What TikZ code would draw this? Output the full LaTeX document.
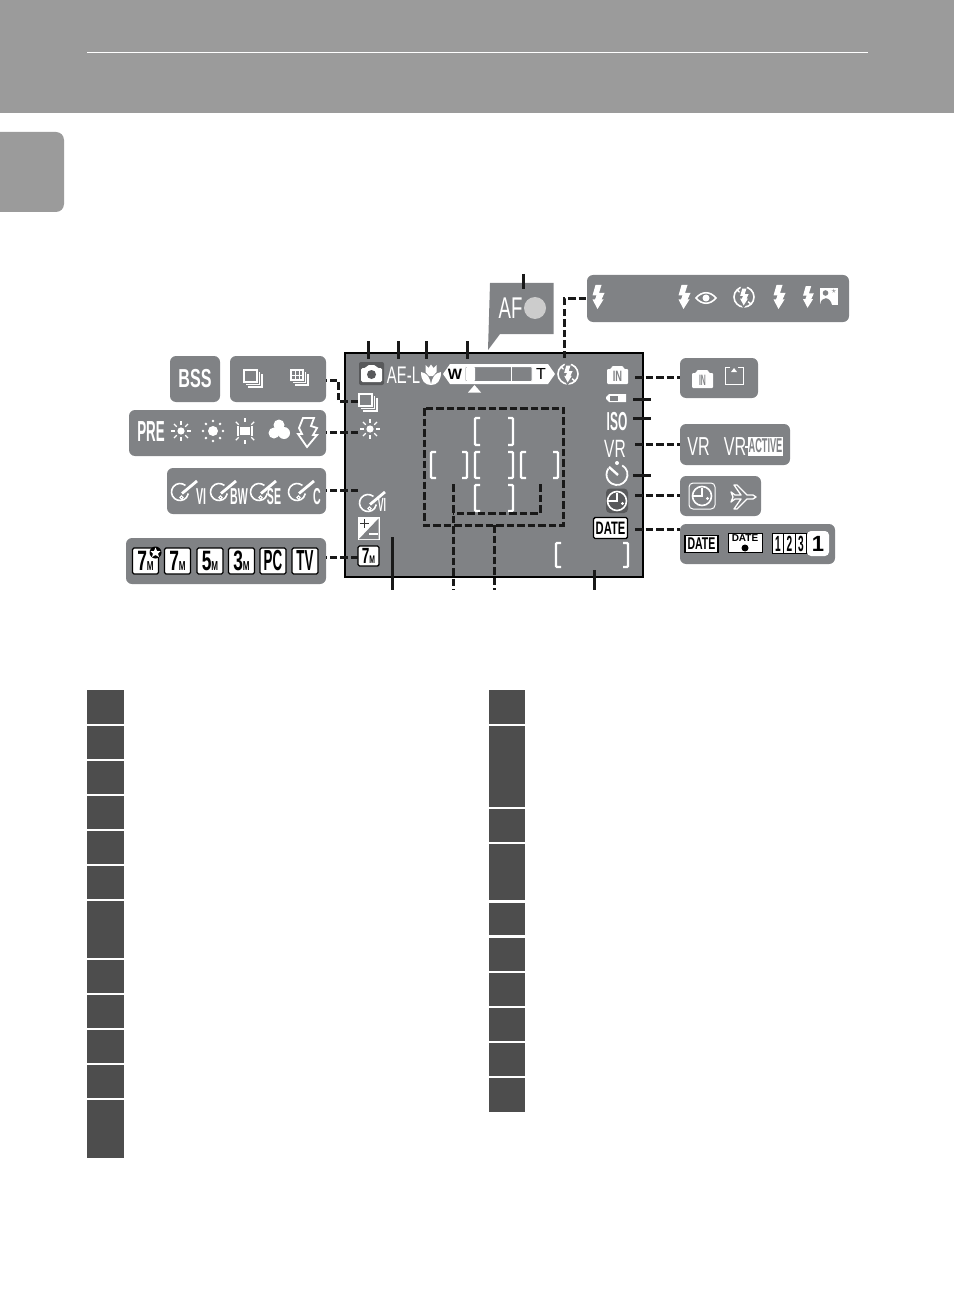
\documentclass[tikz,border=0pt]{standalone}
\usepackage{fontspec}
\setmainfont{Liberation Sans}
\newfontfamily\narrowfont[FakeStretch=0.62]{Liberation Sans}
\newfontfamily\condfont[FakeStretch=0.46]{Liberation Sans}
\usetikzlibrary{calc,positioning}
\definecolor{bandgray}{HTML}{9B9B9B}
\definecolor{panelgray}{HTML}{808285}
\definecolor{darkgray}{HTML}{58595B}
\definecolor{rowgray}{HTML}{4D4D4D}
\tikzset{
  panel/.style={fill=panelgray, rounded corners=6pt, inner sep=0pt},
  rowbox/.style={fill=rowgray},
  leader/.style={black!90, line width=3pt, dash pattern=on 7.5pt off 3pt},
  tick/.style={black!90, line width=3pt},
  glyph/.style={white, line width=1.6pt},
  lab/.style={text=white, inner sep=0pt},
  tagbox/.style={draw=black, fill=white, line width=1.4pt, rounded corners=1.5pt, inner sep=0pt, text=black},
  pics/bolt/.style={code={
    \fill[#1] (-2.5,-12)--(3.5,-12)--(1,-4)--(6.5,-4)--(3.5,2.5)--(5.5,2.5)--(-0.5,12)--(-5.5,2.5)--(-3,2.5)--(-1.5,-1.5)--(-5.5,-1.5)--cycle;
  }},
  pics/bolt/.default=white,
  pics/sun/.style={code={
    \fill[white] (0,0) circle (3.6);
    \foreach \a in {0,45,...,315}{\draw[glyph,line width=1.1pt] (\a:6)--(\a:10);}
  }},
  pics/noflash/.style={code={
    \draw[glyph,line width=1.6pt] (0,0) circle (10);
    \draw[glyph,line width=1.5pt] (-7,-7)--(-2,-3);
    \draw[glyph,line width=1.5pt] (7,7)--(3,4);
    \pic[scale=.98] at (0,0) {bolt=panelgray};
    \pic[scale=.7] at (0,0) {bolt};
  }},
  pics/burst/.style={code={
    \draw[glyph] (-10,-8) rectangle (3,4);
    \draw[glyph] (5.5,-6)--(5.5,6.5)--(-8,6.5);
    \draw[glyph] (8,-4)--(8,9)--(-6,9);
  }},
  pics/gridburst/.style={code={
    \draw[glyph] (-9,-8) rectangle (3,2);
    \foreach \x in {-5,-1}{\draw[glyph,line width=.9pt] (\x,-8)--(\x,2);}
    \draw[glyph,line width=.9pt] (-9,-3)--(3,-3);
    \draw[glyph] (5.5,-6)--(5.5,4.5)--(-7,4.5);
    \draw[glyph] (8,-4)--(8,7)--(-5,7);
  }},
  pics/disc/.style={code={
    \draw[glyph] ($(-1,0)+(310:8.5)$) arc (310:10:8.5);
    \draw[panelgray,line width=4.5pt] (1,2)--(15,-10);
    \draw[glyph,line width=2.8pt] (1,1.5)--(16,-11);
    \draw[glyph,line width=1pt] (0.5,5.5) circle (1.7);
  }},
  pics/clock/.style={code={
    \draw[glyph] (0,0) circle (9.5);
    \draw[glyph,line width=1.1pt] (-9.5,0)--(0,0)--(0,-8);
    \fill[white] (5.5,2.5) circle (1.6);
  }}
}
\begin{document}
\begin{tikzpicture}[x=1pt,y=-1pt]
  \useasboundingbox (0,0) rectangle (954,1313);
  % header band and side tab
  \fill[bandgray] (0,0) rectangle (954,113);
  \draw[white,line width=1pt] (87,53)--(868,53);
  \fill[bandgray,rounded corners=8pt] (-10,132) rectangle (64,212);

  % camera monitor
  \draw[fill=panelgray,line width=2.6pt] (345,353) rectangle (643,577);
  \fill[panelgray] (490,283)--(553.5,283)--(553.5,334)--(500,334)--(488,350)--cycle;
  \node[lab,font=\narrowfont\fontsize{30}{30}\selectfont] (afLabel) at (510.5,308) {AF};
  \fill[black!20] (535,308) circle (11);

  % panels of alternatives
  \node[panel,minimum width=50pt,minimum height=46pt] (pnlBss) at (195,379) {};
  \node[panel,minimum width=96pt,minimum height=46pt] (pnlBurst) at (278,379) {};
  \node[panel,minimum width=197pt,minimum height=46pt] (pnlWhite) at (227.5,433) {};
  \node[panel,minimum width=159pt,minimum height=46pt] (pnlScene) at (246.5,491) {};
  \node[panel,minimum width=200pt,minimum height=46pt] (pnlSize) at (226,561) {};
  \node[panel,minimum width=262pt,minimum height=47pt] (pnlFlash) at (718,298.5) {};
  \node[panel,minimum width=78pt,minimum height=40pt] (pnlCard) at (719,378) {};
  \node[panel,minimum width=110pt,minimum height=41pt] (pnlVr) at (735,444.5) {};
  \node[panel,minimum width=81pt,minimum height=40pt] (pnlClock) at (720.5,496) {};
  \node[panel,minimum width=155pt,minimum height=40pt] (pnlDate) at (757.5,544) {};

  % focus brackets
  \foreach \xa/\ya/\xb/\yb in {475/418/513/445,431/452/467/478,475/452/513/478,521/452/558/478,475/485/513/511,556/543/628/567}{
    \draw[white,line width=2.4pt,rounded corners=1pt] (\xa+5,\ya)--(\xa,\ya)--(\xa,\yb)--(\xa+5,\yb);
    \draw[white,line width=2.4pt,rounded corners=1pt] (\xb-5,\ya)--(\xb,\ya)--(\xb,\yb)--(\xb-5,\yb);
  }

  % monitor top row
  \fill[darkgray,rounded corners=2pt] (359,362) rectangle (384,385);
  \fill[white,rounded corners=1.5pt] (361,368)--(366,368)--(367.5,365)--(375.5,365)--(377,368)--(382,368)--(382,382)--(361,382)--cycle;
  \fill[darkgray] (371.5,374.5) circle (4.5);
  \node[lab,font=\narrowfont\fontsize{24}{24}\selectfont] (aeLabel) at (403.5,375.5) {AE-L};
  \fill[white] (425.5,365)--(428.5,368)--(431,364.5)--(433.5,368)--(436.5,365)--(436.5,372)--(433,376)--(429,376)--(425.5,372)--cycle;
  \fill[white] (421,372) .. controls (427,373) and (430,377) .. (431,385) .. controls (425,385) and (421,381) .. (421,372)--cycle;
  \fill[white] (441,372) .. controls (435,373) and (432,377) .. (431,385) .. controls (437,385) and (441,381) .. (441,372)--cycle;
  \fill[white] (443,374)--(450,364)--(548,364)--(555,374)--(548,384)--(450,384)--cycle;
  \draw[fill=panelgray,draw=white,line width=1pt,rounded corners=1pt] (465,366.5) rectangle (532,381.5);
  \fill[white,rounded corners=1pt] (466,367) rectangle (475,381);
  \draw[white,line width=.8pt] (511,367)--(511,381);
  \node[inner sep=0pt,font=\bfseries\fontsize{15}{15}\selectfont] (wLabel) at (455,374) {W};
  \node[inner sep=0pt,font=\fontsize{16}{16}\selectfont] (tLabel) at (541,374) {T};
  \fill[white] (468,392.5)--(481,392.5)--(474.5,385)--cycle;
  \pic at (568,374) {noflash};

  % monitor left column
  \pic at (369,402) {burst};
  \pic at (370,429) {sun};
  \pic at (369,503) {disc};
  \node[lab,font=\condfont\bfseries\fontsize{19}{19}\selectfont] (viLabel) at (382,505) {VI};
  \fill[white] (358,517) rectangle (379.5,540);
  \fill[panelgray] (378.5,518.5)--(378.5,539)--(359,539)--cycle;
  \draw[line width=1.8pt,black!80] (360,523.5)--(369,523.5) (364.5,519)--(364.5,528);
  \draw[white,line width=1.8pt] (369,534)--(378,534);
  \node[tagbox,minimum width=21pt,minimum height=20pt] (sizeTag) at (368.5,556) {\narrowfont\bfseries\fontsize{22}{22}\selectfont 7\fontsize{11}{11}\selectfont M};

  % monitor right column
  \fill[white,rounded corners=1pt] (607,369)--(611,369)--(612,366)--(623,366)--(624,369)--(628,369)--(628,384)--(607,384)--cycle;
  \node[inner sep=0pt,text=panelgray,font=\narrowfont\bfseries\fontsize{15}{15}\selectfont] (inLabel) at (617.5,376.5) {IN};
  \fill[white] (606,397)--(609,394)--(626,394)--(626,402)--(609,402)--(606,399)--cycle;
  \fill[panelgray] (610,395.5) rectangle (618,400.5);
  \node[lab,font=\condfont\bfseries\fontsize{26}{26}\selectfont] (isoLabel) at (617,422) {ISO};
  \node[lab,font=\narrowfont\fontsize{25}{25}\selectfont] (vrLabel) at (615,448.5) {VR};
  \draw[glyph,line width=1.8pt] ($(617,474.5)+(300:10.5)$) arc (300:575:10.5);
  \draw[glyph,line width=2.4pt] (609,467)--(618,475);
  \fill[white] (617,463) circle (2);
  \fill[darkgray,rounded corners=4pt] (606,488.5) rectangle (628,513);
  \pic at (617,501) {clock};
  \node[tagbox,minimum width=34pt,minimum height=21pt,font=\narrowfont\bfseries\fontsize{18}{18}\selectfont] (dateTag) at (610.5,528) {DATE};

  % alternatives, top left
  \node[lab,font=\narrowfont\bfseries\fontsize{26}{26}\selectfont] (bssLabel) at (pnlBss) {BSS};
  \pic at (254,378) {burst};
  \pic at (300,378) {gridburst};

  % white balance
  \node[lab,font=\condfont\bfseries\fontsize{29}{29}\selectfont] (preLabel) at (151,432) {PRE};
  \pic at (181,431) {sun};
  \fill[white] (213,431) circle (5);
  \foreach \a in {0,45,...,315}{\fill[white] ($(213,431)+(\a:10)$) circle (1.4);}
  \fill[white] (240,427) rectangle (250,435);
  \foreach \a in {45,90,135,225,270,315}{\draw[glyph,line width=1.1pt] ($(245,431)+(\a:9)$)--($(245,431)+(\a:13)$);}
  \draw[glyph,line width=1.1pt] (238,426)--(238,436) (252,426)--(252,436);
  \fill[white] (279,425) circle (5.5) (274,433) circle (5.5) (284,433) circle (6);
  \draw[white,fill=panelgray,line width=1.8pt] (303,418)--(314,418)--(311,426)--(317,428)--(313,435)--(317,435)--(307,447)--(298,434)--(302,434)--(299,428)--cycle;

  % image modes
  \foreach \x/\t/\u in {181/201/VI,220/239/BW,260/274/SE,298/317/C}{
    \pic at (\x,492) {disc};
    \node[lab,font=\condfont\bfseries\fontsize{23}{23}\selectfont] (lbl\u) at (\t,497) {\u};
  }

  % image sizes
  \foreach \c/\n/\t in {145.5/a/7,177.5/b/7,210/c/5,241.5/d/3}{
    \node[tagbox,minimum width=26pt,minimum height=26pt] (size\n) at (\c,561) {\narrowfont\bfseries\fontsize{28}{28}\selectfont \t\fontsize{13}{13}\selectfont M};
  }
  \node[tagbox,minimum width=26pt,minimum height=26pt,font=\condfont\bfseries\fontsize{29}{29}\selectfont] (sizePc) at (273,561) {PC};
  \node[tagbox,minimum width=26pt,minimum height=26pt,font=\condfont\bfseries\fontsize{29}{29}\selectfont] (sizeTv) at (305,561) {TV};
  \fill[black] (155.5,552.5) circle (6);
  \fill[white] (155.5,547.5)--(157,551)--(160.5,551)--(158,553.5)--(159,557)--(155.5,555)--(152,557)--(153,553.5)--(150.5,551)--(154,551)--cycle;

  % flash modes
  \pic at (598,297) {bolt};
  \pic at (684,297) {bolt};
  \draw[glyph] (696,298) .. controls (702,291) and (710,291) .. (716,298) .. controls (710,305) and (702,305) .. (696,298)--cycle;
  \fill[white] (706,298) circle (3.5);
  \pic at (744,297) {noflash};
  \pic at (779,297) {bolt};
  \pic[scale=.9] at (808,297) {bolt};
  \fill[white] (820,288) rectangle (838,305);
  \fill[panelgray] (825.5,293) circle (2.8) (820,305) .. controls (821,296) and (830,296) .. (832,305)--cycle;
  \node[inner sep=0pt,text=panelgray,font=\fontsize{9}{9}\selectfont] (starLabel) at (834,291.5) {$\star$};

  % card and memory
  \fill[white,rounded corners=1pt] (692,373)--(696,373)--(697,370)--(708,370)--(709,373)--(713,373)--(713,388)--(692,388)--cycle;
  \node[inner sep=0pt,text=panelgray,font=\condfont\bfseries\fontsize{15}{15}\selectfont] (inAlt) at (702.5,380.5) {IN};
  \draw[glyph,line width=1pt] (730,367)--(725,367)--(725,384)--(743,384)--(743,367)--(738,367);
  \fill[white] (731,372)--(737,372)--(734,368)--cycle;

  % vibration reduction
  \node[lab,font=\narrowfont\fontsize{26}{26}\selectfont] (vrAlt) at (698.5,446.5) {VR};
  \node[lab,font=\narrowfont\fontsize{26}{26}\selectfont] (vrPlain) at (735,446.5) {VR};
  \draw[white,line width=1.4pt] (745,447)--(748,447);
  \node[fill=white,minimum width=35pt,minimum height=19pt,inner sep=0pt,text=panelgray,font=\condfont\bfseries\fontsize{20}{20}\selectfont] (activeLabel) at (765.5,446) {ACTIVE};

  % clock and travel
  \draw[white,line width=1pt,rounded corners=4pt] (689,483) rectangle (715,509);
  \pic at (702,496) {clock};
  \draw[white,fill=panelgray,line width=1.3pt,line join=round] (731,492)--(735,495)--(741,495)--(734,485)--(737,485)--(747,495)--(753,495)--(756,497)--(753,499)--(747,499)--(737,509)--(734,509)--(741,499)--(735,499)--(731,502)--(733,497)--cycle;

  % date imprint
  \node[tagbox,rounded corners=0pt,minimum width=33pt,minimum height=17pt,font=\narrowfont\bfseries\fontsize{17}{17}\selectfont] (dateA) at (701.5,544) {DATE};
  \node[tagbox,rounded corners=0pt,line width=.8pt,minimum width=34pt,minimum height=19pt] (dateB) at (745,542.5) {};
  \node[inner sep=0pt,font=\bfseries\fontsize{10}{10}\selectfont] (dateBText) at (745,538.5) {DATE};
  \fill[black] (745,548) circle (3.5);
  \foreach \c/\t in {778/1,789.5/2,801/3}{
    \node[tagbox,rounded corners=0pt,line width=.8pt,minimum width=11.5pt,minimum height=20pt,font=\condfont\bfseries\fontsize{22}{22}\selectfont] (num\t) at (\c,543.5) {\t};
  }
  \node[fill=white,rounded corners=4pt,minimum width=22pt,minimum height=25pt,inner sep=0pt,font=\bfseries\fontsize{22}{22}\selectfont] (numOne) at (818,543.5) {1};

  % focus area leaders
  \coordinate (fa) at (424,408);
  \coordinate (fb) at (563.5,525);
  \draw[leader] (fa) rectangle (fb);
  \coordinate (ia) at (453,484);
  \coordinate (ib) at (540,484);
  \coordinate (ic) at (453,590);
  \draw[leader] (ib)--(540,513)--(453,513);
  \draw[leader] (ia)--(ic);
  \coordinate (id) at (494,525);
  \coordinate (ie) at (494,590);
  \draw[leader] (id)--(ie);

  % leaders from the monitor to the panels
  \coordinate (tipFlash) at (564,358);
  \draw[leader] (tipFlash)--(564,299)--(pnlFlash.west |- 0,299);
  \coordinate (tipBurst) at (358,401);
  \draw[leader] (tipBurst)--(338,401)--(338,380)--(pnlBurst.east |- 0,380);
  \foreach \n/\y/\b in {Wb/432/pnlWhite,Img/490/pnlScene,Sz/557/pnlSize}{
    \coordinate (tip\n) at (358,\y);
    \draw[leader] (tip\n)--(\b.east |- tip\n);
  }
  \foreach \n/\y/\b in {Card/377/pnlCard,Vr/444/pnlVr,Clk/495/pnlClock,Dt/529/pnlDate}{
    \coordinate (tip\n) at (635,\y);
    \draw[leader] (tip\n)--(\b.west |- tip\n);
  }

  % plain ticks
  \foreach \n/\x in {A/368,B/398,C/426,D/467}{
    \coordinate (top\n) at (\x,341);
    \coordinate (end\n) at (\x,359);
    \draw[tick] (top\n)--(end\n);
  }
  \coordinate (topAf) at (523,274);
  \coordinate (endAf) at (523,289);
  \draw[tick] (topAf)--(endAf);
  \foreach \n/\x/\y in {E/392/537,F/594/570}{
    \coordinate (low\n) at (\x,590);
    \coordinate (end\n) at (\x,\y);
    \draw[tick] (end\n)--(low\n);
  }
  \foreach \n/\y in {G/399,H/418,I/475}{
    \coordinate (side\n) at (633,\y);
    \coordinate (out\n) at (651,\y);
    \draw[tick] (side\n)--(out\n);
  }

  % table keys
  \foreach \a/\b in {690/724,726/759,761/794,796/829,831/864,866/899,901/958,960/993,995/1028,1030/1063,1065/1098,1100/1158}{
    \fill[rowbox] (87,\a) rectangle (124,\b);
  }
  \foreach \a/\b in {690/724,726/807,809/842,844/900,903/935,938/971,973/1006,1008/1041,1043/1076,1078/1112}{
    \fill[rowbox] (489,\a) rectangle (525,\b);
  }
\end{tikzpicture}
\end{document}
